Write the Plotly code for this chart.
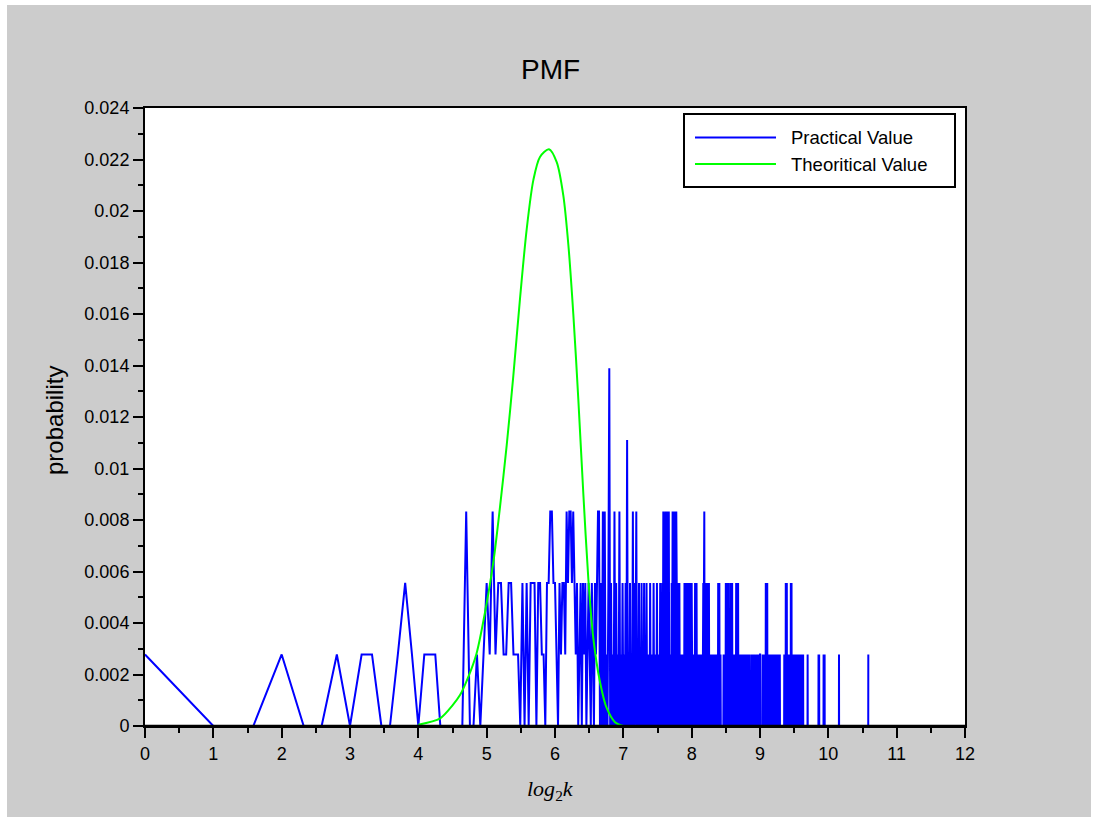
import numpy as np
import plotly.graph_objects as go

# ---------------- data ----------------
UNIT = 360  # one observation = 1/360 probability

# observation counts for k = 1..64   (x = log2 k)
counts_k1_64 = [1, 0, 0, 1, 0, 0, 1, 0, 1, 1,
                0, 0, 1, 2, 1, 0, 1, 1, 1, 0,
                0, 0, 0, 0, 0, 3, 0, 0, 1, 0,
                1, 2, 1, 3, 1, 2, 2, 1, 1, 2,
                2, 1, 1, 1, 0, 2, 0, 2, 0, 2,
                2, 2, 0, 2, 2, 1, 1, 0, 2, 2,
                3, 3, 2, 2]

# counts for k = 65..128
counts_k65_128 = [1, 0, 2, 1, 2, 2, 1, 3, 2, 3, 3, 2, 3, 2, 1, 2,
                  0, 1, 2, 0, 2, 1, 2, 0, 1, 2, 1, 0, 2, 1, 0, 2,
                  1, 2, 3, 3, 0, 2, 0, 3, 0, 3, 0, 1, 0, 2, 5, 0,
                  2, 0, 1, 0, 3, 0, 2, 0, 1, 0, 3, 0, 1, 0, 2, 0]

# counts for k = 129..256
counts_k129_256 = [1, 0, 2, 0, 4, 0, 1, 0, 2, 0, 1, 0, 3, 0, 2, 0,
                   1, 3, 0, 1, 0, 2, 0, 1, 0, 2, 0, 1, 0, 2, 0, 1,
                   0, 2, 0, 1, 0, 1, 0, 2, 0, 1, 0, 1, 0, 2, 0, 1,
                   0, 1, 0, 2, 0, 1, 0, 1, 0, 2, 0, 1, 0, 2, 0, 3,
                   0, 2, 0, 3, 1, 2, 0, 3, 2, 0, 3, 0, 1, 0, 1, 0,
                   2, 0, 3, 2, 3, 0, 3, 0, 3, 0, 3, 2, 0, 2, 0, 1,
                   0, 2, 0, 1, 0, 1, 0, 1, 0, 1, 0, 1, 0, 2, 0, 2,
                   0, 2, 0, 2, 1, 2, 0, 2, 0, 1, 0, 2, 0, 1, 0, 2]

# counts for k = 257..512
counts_k257_512 = [1, 0, 0, 0, 1, 0, 1, 0, 2, 0, 2, 0, 2, 0, 1, 0,
                   1, 0, 1, 0, 1, 0, 1, 0, 1, 0, 1, 0, 1, 0, 1, 2,
                   0, 2, 3, 0, 2, 0, 2, 0, 1, 0, 2, 0, 1, 0, 2, 0,
                   2, 0, 1, 0, 1, 0, 1, 0, 1, 0, 1, 0, 1, 0, 1, 0,
                   1, 0, 1, 0, 1, 0, 1, 0, 1, 0, 1, 0, 1, 0, 2, 0,
                   2, 0, 2, 0, 1, 0, 1, 0, 0, 0, 0, 0, 0, 0, 0, 0,
                   0, 1, 0, 1, 0, 1, 0, 1, 0, 2, 0, 2, 0, 2, 0, 1,
                   0, 2, 0, 0, 0, 0, 0, 1, 0, 2, 0, 2, 0, 2, 0, 1,
                   0, 2, 0, 1, 0, 1, 0, 1, 0, 1, 0, 1, 0, 1, 0, 1,
                   0, 2, 0, 2, 0, 2, 0, 2, 0, 2, 0, 1, 0, 1, 0, 1,
                   0, 1, 0, 1, 0, 1, 0, 1, 0, 1, 0, 1, 0, 1, 0, 1,
                   0, 1, 0, 1, 0, 1, 0, 1, 0, 1, 0, 1, 0, 1, 0, 1,
                   0, 1, 0, 1, 0, 1, 0, 1, 0, 1, 0, 1, 0, 1, 0, 0,
                   0, 0, 0, 0, 0, 0, 0, 1, 0, 1, 0, 1, 0, 1, 0, 1,
                   0, 1, 0, 0, 0, 0, 0, 0, 0, 0, 0, 1, 0, 1, 0, 1,
                   0, 1, 0, 1, 0, 1, 0, 1, 0, 1, 0, 1, 0, 1, 0, 1]

# sparse counts for k > 512 (k not listed -> 0 observations)
k_high = [513, 526, 528, 531, 533, 536, 538, 541, 543, 546, 548, 551, 553, 556,
          558, 561, 563, 566, 568, 571, 573, 576, 578, 581, 583, 586, 588, 591,
          593, 596, 598, 601, 603, 606, 608, 611, 613, 616, 618, 621, 623, 626,
          655, 657, 660, 662, 665, 667, 670, 672, 675, 677, 680, 682, 685, 687,
          690, 692, 695, 697, 700, 702, 705, 707, 710,
          718, 720, 723, 725, 728, 730, 733, 735, 738, 740, 743, 745, 748, 750,
          753, 755, 758, 760, 763, 765, 768, 770, 773, 775, 778, 780, 783, 785,
          788, 790, 793,
          830, 927, 933, 976, 986, 1141, 1536]
c_high = [1, 1, 1, 1, 1, 1, 1, 1, 2, 1, 2, 2, 1, 1,
          1, 1, 1, 1, 1, 1, 1, 1, 1, 1, 1, 1, 1, 1,
          1, 1, 1, 1, 1, 1, 1, 1, 1, 1, 1, 1, 1, 1,
          1, 1, 1, 1, 2, 1, 1, 2, 1, 1, 1, 1, 1, 1,
          1, 1, 1, 1, 2, 1, 2, 1, 1,
          1, 1, 1, 1, 1, 1, 1, 1, 1, 1, 1, 1, 1, 1,
          1, 1, 1, 1, 1, 1, 1, 1, 1, 1, 1, 1, 1, 1,
          1, 1, 1,
          1, 1, 1, 1, 1, 1, 1]

# theoretical curve, points
theory_x = [4.0, 4.32, 4.5, 4.61, 4.73, 4.85, 4.975, 5.1, 5.195, 5.293, 5.39,
            5.488, 5.586, 5.683, 5.78, 5.912, 6.025, 6.122, 6.195, 6.268,
            6.341, 6.415, 6.488, 6.561, 6.659, 6.756, 6.878, 7.0]
theory_y = [0.00005, 0.0003, 0.0008, 0.0012, 0.0019, 0.0028, 0.0044, 0.0064,
            0.0085, 0.0109, 0.0136, 0.0166, 0.0193, 0.0212, 0.0221, 0.0224,
            0.0219, 0.0206, 0.0187, 0.0160, 0.0127, 0.0090, 0.0057, 0.0034,
            0.0017, 0.0007, 0.00015, 0.0]

x_ticks = list(range(0, 13))
y_ticks = [0, 0.002, 0.004, 0.006, 0.008, 0.01, 0.012, 0.014, 0.016, 0.018,
           0.02, 0.022, 0.024]
y_ticklabels = ["0", "0.002", "0.004", "0.006", "0.008", "0.01", "0.012",
                "0.014", "0.016", "0.018", "0.02", "0.022", "0.024"]

legend_labels = ["Practical Value", "Theoritical Value"]

# ---------------- assemble practical PMF ----------------
k_max = max(k_high)
counts = np.zeros(k_max, dtype=float)
dense = counts_k1_64 + counts_k65_128 + counts_k129_256 + counts_k257_512
counts[:len(dense)] = dense
for k, c in zip(k_high, c_high):
    counts[k - 1] = c
k_all = np.arange(1, k_max + 1)
prac_x = np.log2(k_all)
prac_y = counts / UNIT

# ---------------- layout geometry ----------------
W, H = 1099, 826
L, R, T, B = 145, 134, 108, 100
PW, PH = W - L - R, H - T - B


def px(xp):
    return (xp - L) / PW


def py(yp):
    return (H - B - yp) / PH


FONT = "Liberation Sans, Arial, sans-serif"
BLUE = "#0000ff"
GREEN = "#00ff00"

fig = go.Figure()
fig.add_trace(go.Scatter(x=prac_x, y=prac_y, mode="lines",
                         line=dict(color=BLUE, width=2, simplify=False),
                         name=legend_labels[0], showlegend=False))
fig.add_trace(go.Scatter(x=theory_x, y=theory_y, mode="lines",
                         line=dict(color=GREEN, width=2, shape="spline",
                                   smoothing=0.8),
                         name=legend_labels[1], showlegend=False))

shapes = []
# white outer border around the grey figure area
for (x0, y0, x1, y1) in [(0, 0, 7, H), (1091, 0, W, H), (0, 0, W, 5), (0, 817, W, H)]:
    shapes.append(dict(type="rect", xref="paper", yref="paper",
                       x0=px(x0), x1=px(x1), y0=py(y1), y1=py(y0),
                       fillcolor="white", line=dict(width=0), layer="above"))
# bottom axis drawn over the zero-level of the curves
shapes.append(dict(type="line", xref="paper", yref="paper",
                   x0=0, x1=1, y0=py(725.4), y1=py(725.4),
                   line=dict(color="black", width=1.3), layer="above"))
# legend box
shapes.append(dict(type="rect", xref="paper", yref="paper",
                   x0=px(684), x1=px(955), y0=py(187), y1=py(114),
                   fillcolor="white", line=dict(color="black", width=2),
                   layer="above"))
for yy, col in [(137.5, BLUE), (164, GREEN)]:
    shapes.append(dict(type="line", xref="paper", yref="paper",
                       x0=px(695), x1=px(776), y0=py(yy), y1=py(yy),
                       line=dict(color=col, width=2), layer="above"))

annotations = [
    dict(text=legend_labels[0], x=px(789), y=py(137.5), xref="paper", yref="paper",
         xanchor="left", yanchor="middle", showarrow=False,
         font=dict(family=FONT, size=18.5, color="#000")),
    dict(text=legend_labels[1], x=px(789), y=py(164), xref="paper", yref="paper",
         xanchor="left", yanchor="middle", showarrow=False,
         font=dict(family=FONT, size=18.5, color="#000")),
    dict(text="PMF", x=px(550), y=py(70), xref="paper", yref="paper",
         xanchor="center", yanchor="middle", showarrow=False,
         font=dict(family=FONT, size=28, color="#000")),
    dict(text="probability", x=px(55), y=py(421), xref="paper", yref="paper",
         xanchor="center", yanchor="middle", showarrow=False, textangle=-90,
         font=dict(family=FONT, size=24, color="#000")),
    dict(text="<i>log</i><sub>2</sub><i>k</i>", x=px(550), y=py(790),
         xref="paper", yref="paper", xanchor="center", yanchor="middle",
         showarrow=False,
         font=dict(family="Liberation Serif, DejaVu Serif, serif", size=22,
                   color="#000")),
]

axis_common = dict(showgrid=False, zeroline=False, showline=True,
                   linecolor="black", linewidth=2, mirror=True,
                   ticks="outside", ticklen=10, tickwidth=1.5,
                   tickcolor="black",
                   tickfont=dict(family=FONT, size=18, color="#000"))

fig.update_layout(
    width=W, height=H, autosize=False,
    margin=dict(l=L, r=R, t=T, b=B, pad=0),
    paper_bgcolor="#cccccc", plot_bgcolor="white",
    showlegend=False,
    xaxis=dict(range=[0, 12], tickvals=x_ticks,
               minor=dict(dtick=0.5, ticklen=5, tickwidth=1.5,
                          tickcolor="black", ticks="outside"),
               **axis_common),
    yaxis=dict(range=[0, 0.024], tickvals=y_ticks, ticktext=y_ticklabels,
               minor=dict(dtick=0.001, ticklen=5, tickwidth=1.5,
                          tickcolor="black", ticks="outside"),
               **axis_common),
    shapes=shapes,
    annotations=annotations,
)

fig.write_html("out.html")
